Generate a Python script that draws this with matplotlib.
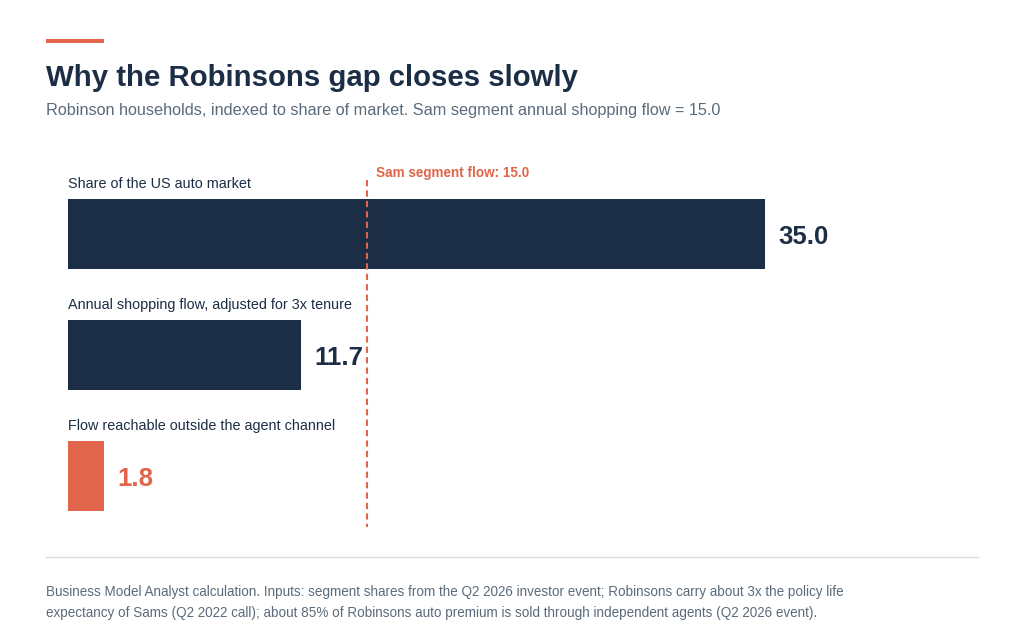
import matplotlib.pyplot as plt
from matplotlib.patches import Rectangle
from matplotlib.lines import Line2D

plt.rcParams['font.family'] = ['Liberation Sans', 'DejaVu Sans']

categories = ['Share of the US auto market',
              'Annual shopping flow, adjusted for 3x tenure',
              'Flow reachable outside the agent channel']
values = [35.0, 11.7, 1.8]
sam_flow = 15.0

navy = '#1c2e45'
orange = '#e0654a'
gray = '#5b6b7b'
bar_colors = [navy, navy, orange]

W, H = 1024, 637
fig = plt.figure(figsize=(W / 100, H / 100), dpi=100)

def fx(px):
    return px / W

def fy(py):
    return 1 - py / H

# accent bar on top
fig.add_artist(Rectangle((fx(46), fy(43)), fx(104) - fx(46), 4 / H,
                         transform=fig.transFigure, color=orange, lw=0))

fig.text(fx(46), fy(86), 'Why the Robinsons gap closes slowly', fontsize=21.2,
         fontweight='bold', color=navy, va='baseline')
fig.text(fx(46), fy(115), 'Robinson households, indexed to share of market. '
         'Sam segment annual shopping flow = 15.0', fontsize=11.7, color=gray, va='baseline')

# bars area: x 68..978 px, y 170..530 px
ax = fig.add_axes([fx(68), fy(530), fx(978) - fx(68), (530 - 170) / H])
ax.set_xlim(0, 910 / 19.91)
ax.set_ylim(2.446, -0.529)
ax.axis('off')

h = 0.579
ypos = list(range(len(categories)))
ax.barh(ypos, values, height=h, color=bar_colors)

for i, (cat, v, c) in enumerate(zip(categories, values, bar_colors)):
    ax.annotate(cat, xy=(0, i - h / 2), xytext=(0, 7.8), textcoords='offset points',
                va='baseline', ha='left', fontsize=10.4, color=navy)
    ax.annotate(f'{v:.1f}', xy=(v, i), xytext=(10, 0), textcoords='offset points',
                va='center_baseline', ha='left', fontsize=18.5, fontweight='bold', color=c)

ax.vlines(sam_flow, -0.45, 2.42, colors=orange, linestyles=(0, (3, 2)), lw=1.5)
ax.annotate(f'Sam segment flow: {sam_flow:.1f}', xy=(sam_flow, -0.45), xytext=(6.5, 1.5),
            textcoords='offset points', va='baseline', ha='left', fontsize=9.75,
            fontweight='bold', color=orange)

# rule and footnote
fig.add_artist(Line2D([fx(46), fx(978)], [fy(557), fy(557)], transform=fig.transFigure,
                      color='#d8dde2', lw=1))
fig.text(fx(46), fy(596), 'Business Model Analyst calculation. Inputs: segment shares from the Q2 2026 '
         'investor event; Robinsons carry about 3x the policy life', fontsize=9.75, color=gray,
         va='baseline')
fig.text(fx(46), fy(617), 'expectancy of Sams (Q2 2022 call); about 85% of Robinsons auto premium '
         'is sold through independent agents (Q2 2026 event).', fontsize=9.75, color=gray,
         va='baseline')

fig.savefig('out.png', dpi=100)
